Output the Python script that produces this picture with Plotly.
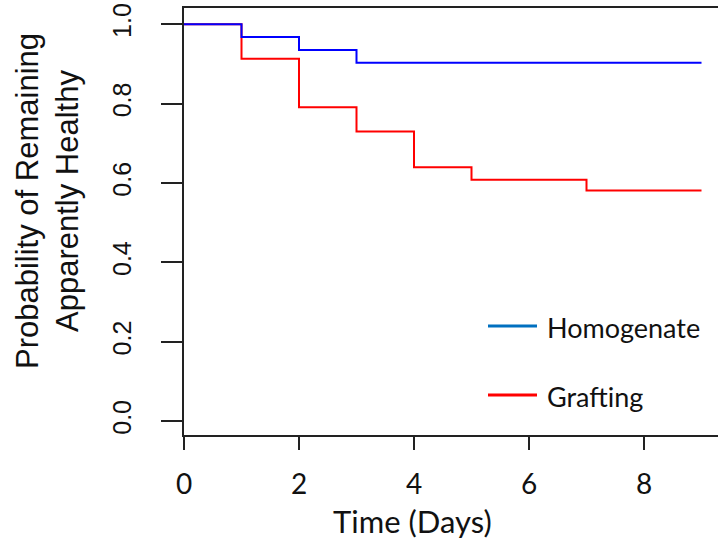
import plotly.graph_objects as go

# Kaplan-Meier style survival estimates
days_homogenate = [0, 1, 2, 3, 9]
surv_homogenate = [1.0, 0.968, 0.935, 0.903, 0.903]

days_grafting = [0, 1, 2, 3, 4, 5, 7, 9]
surv_grafting = [1.0, 0.913, 0.791, 0.730, 0.640, 0.608, 0.581, 0.581]

x_ticks = [0, 2, 4, 6, 8]
y_ticks = [0.0, 0.2, 0.4, 0.6, 0.8, 1.0]
y_tick_text = ["0.0", "0.2", "0.4", "0.6", "0.8", "1.0"]

W, H = 718, 544
L, T, B = 184, 8, 109
plot_w, plot_h = W - L, H - T - B

fig = go.Figure()
fig.add_trace(go.Scatter(x=days_grafting, y=surv_grafting, mode="lines",
                         line=dict(color="#FF0000", width=2, shape="hv"),
                         showlegend=False, hoverinfo="skip"))
fig.add_trace(go.Scatter(x=days_homogenate, y=surv_homogenate, mode="lines",
                         line=dict(color="#0000FF", width=2, shape="hv"),
                         showlegend=False, hoverinfo="skip"))


def px_to_paper(px, py):
    return (px - L) / plot_w, (H - B - py) / plot_h


# Legend keys drawn as line segments with text beside them
legend_items = [("Homogenate", "#0070C0", 326), ("Grafting", "#FF0000", 395)]
for label, col, py in legend_items:
    x0, y0 = px_to_paper(488, py)
    x1, _ = px_to_paper(537, py)
    fig.add_shape(type="line", xref="paper", yref="paper", x0=x0, x1=x1, y0=y0, y1=y0,
                  line=dict(color=col, width=3))
    tx, ty = px_to_paper(545, py + 1)
    fig.add_annotation(text=label, xref="paper", yref="paper", x=tx, y=ty,
                       xanchor="left", yanchor="middle", showarrow=False,
                       font=dict(family="Lato", size=27, color="#111"))

# Axis titles
tx, ty = px_to_paper(412, 521)
fig.add_annotation(text="Time (Days)", xref="paper", yref="paper", x=tx, y=ty,
                   xanchor="center", yanchor="middle", showarrow=False,
                   font=dict(family="Lato", size=31, color="#111"))
tx, ty = px_to_paper(48, 201)
fig.add_annotation(text="Probability of Remaining<br>Apparently Healthy",
                   xref="paper", yref="paper", x=tx, y=ty, textangle=-90,
                   xanchor="center", yanchor="middle", showarrow=False,
                   font=dict(family="Liberation Sans", size=31, color="#111"))

fig.update_xaxes(range=[0, plot_w / 57.5], tickvals=x_ticks,
                 showline=True, linecolor="#222", linewidth=2, mirror=True,
                 ticks="outside", ticklen=13, tickwidth=2, tickcolor="#222",
                 showgrid=False, zeroline=False, ticklabelstandoff=10,
                 tickfont=dict(family="Lato", size=28, color="#111"))
fig.update_yaxes(range=[-0.035, 1.041], tickvals=y_ticks, ticktext=y_tick_text,
                 tickangle=-90,
                 showline=True, linecolor="#222", linewidth=2, mirror=False,
                 ticks="outside", ticklen=21, tickwidth=2, tickcolor="#222",
                 showgrid=False, zeroline=False, ticklabelstandoff=20,
                 tickfont=dict(family="Liberation Sans", size=25, color="#111"))

fig.update_layout(width=W, height=H, margin=dict(l=L, r=0, t=T, b=B, pad=0),
                  plot_bgcolor="white", paper_bgcolor="white")

fig.write_html("out.html")
